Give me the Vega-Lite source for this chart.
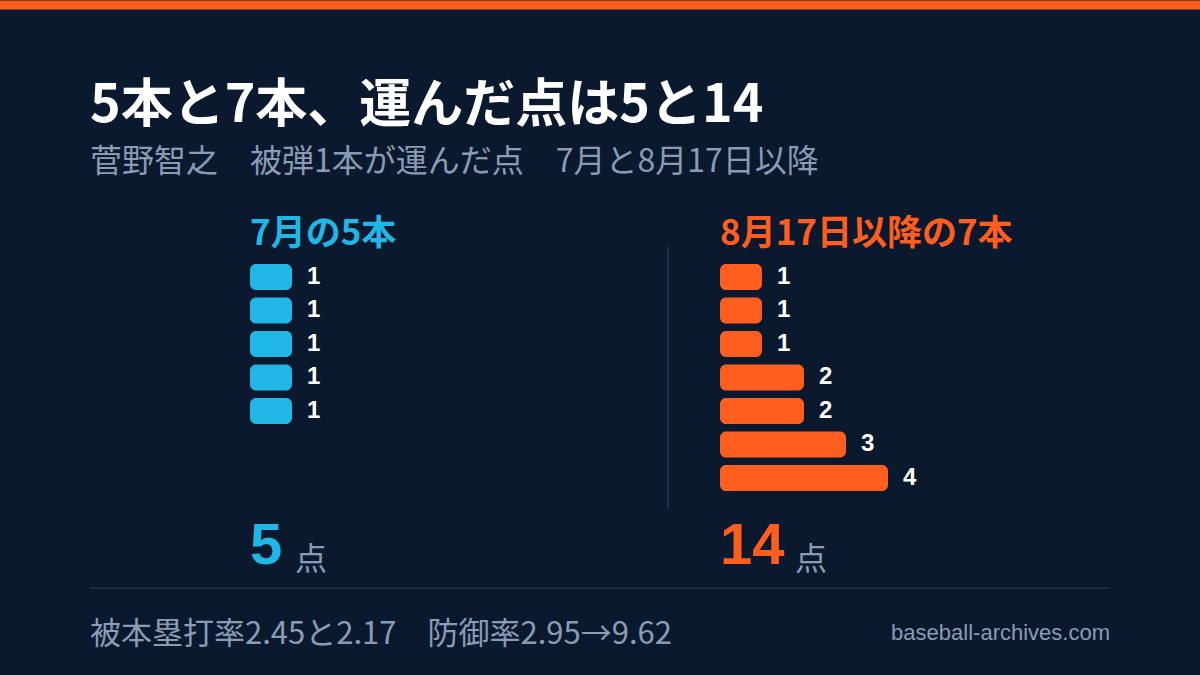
{
  "$schema": "https://vega.github.io/schema/vega-lite/v6.json",
  "width": 1200,
  "height": 675,
  "autosize": {"type": "none"},
  "padding": 0,
  "background": "#0a192e",
  "config": {
    "view": {"stroke": null},
    "font": "Noto Sans CJK JP",
    "text": {"font": "Noto Sans CJK JP"}
  },
  "datasets": {
    "july": [
      {"rank": 1, "runs": 1},
      {"rank": 2, "runs": 1},
      {"rank": 3, "runs": 1},
      {"rank": 4, "runs": 1},
      {"rank": 5, "runs": 1}
    ],
    "after": [
      {"rank": 1, "runs": 1},
      {"rank": 2, "runs": 1},
      {"rank": 3, "runs": 1},
      {"rank": 4, "runs": 2},
      {"rank": 5, "runs": 2},
      {"rank": 6, "runs": 3},
      {"rank": 7, "runs": 4}
    ]
  },
  "layer": [
    {
      "layer": [
        {
          "data": {"values": [{}]},
          "mark": {"type": "rule", "color": "#ff5e1f", "strokeWidth": 9},
          "encoding": {
            "x": {"datum": -5.9524, "type": "quantitative", "axis": null, "scale": {"domain": [-5.9524, 22.619], "zero": false, "nice": false}},
            "x2": {"datum": 22.619},
            "y": {"datum": -7.1176, "type": "quantitative", "axis": null, "scale": {"domain": [-7.1176, 12.7353], "reverse": true, "zero": false, "nice": false}}
          }
        },
        {
          "data": {"values": [{}]},
          "mark": {"type": "text", "align": "left", "baseline": "alphabetic", "fontSize": 52, "fontWeight": "bold", "color": "#ffffff", "text": "5本と7本、運んだ点は5と14"},
          "encoding": {
            "x": {"datum": -3.8095, "type": "quantitative"},
            "y": {"datum": -3.62, "type": "quantitative"}
          }
        },
        {
          "data": {"values": [{}]},
          "mark": {"type": "text", "align": "left", "baseline": "alphabetic", "fontSize": 32, "color": "#8a9bb4", "text": "菅野智之　被弾1本が運んだ点　7月と8月17日以降"},
          "encoding": {
            "x": {"datum": -3.8095, "type": "quantitative"},
            "y": {"datum": -2.14, "type": "quantitative"}
          }
        },
        {
          "data": {"values": [{}]},
          "mark": {"type": "text", "align": "left", "baseline": "alphabetic", "fontSize": 35, "fontWeight": "bold", "color": "#20b6e6", "text": "7月の5本"},
          "encoding": {
            "x": {"datum": 0, "type": "quantitative"},
            "y": {"datum": 0.06, "type": "quantitative"}
          }
        },
        {
          "data": {"name": "july"},
          "mark": {"type": "bar", "orient": "horizontal", "height": 26, "cornerRadius": 6, "color": "#20b6e6"},
          "encoding": {
            "x": {"field": "runs", "type": "quantitative", "stack": null},
            "x2": {"datum": 0},
            "y": {"field": "rank", "type": "quantitative"}
          }
        },
        {
          "data": {"name": "july"},
          "mark": {"type": "text", "align": "left", "baseline": "middle", "dx": 15, "fontSize": 24, "fontWeight": "bold", "font": "Liberation Sans", "color": "#ffffff"},
          "encoding": {
            "x": {"field": "runs", "type": "quantitative", "stack": null},
            "y": {"field": "rank", "type": "quantitative"},
            "text": {"field": "runs", "type": "quantitative"}
          }
        },
        {
          "data": {"values": [{}]},
          "mark": {"type": "text", "align": "left", "baseline": "alphabetic", "fontSize": 58, "fontWeight": "bold", "font": "Liberation Sans", "color": "#20b6e6", "text": "5"},
          "encoding": {
            "x": {"datum": 0, "type": "quantitative"},
            "y": {"datum": 9.56, "type": "quantitative"}
          }
        },
        {
          "data": {"values": [{}]},
          "mark": {"type": "text", "align": "left", "baseline": "alphabetic", "fontSize": 32, "color": "#8a9bb4", "text": "点"},
          "encoding": {
            "x": {"datum": 1.0714, "type": "quantitative"},
            "y": {"datum": 9.76, "type": "quantitative"}
          }
        },
        {
          "data": {"values": [{}]},
          "mark": {"type": "rule", "color": "#1f3049", "strokeWidth": 1.5},
          "encoding": {
            "x": {"datum": -3.8095, "type": "quantitative"},
            "x2": {"datum": 20.476},
            "y": {"datum": 10.294, "type": "quantitative"}
          }
        },
        {
          "data": {"values": [{}]},
          "mark": {"type": "text", "align": "left", "baseline": "alphabetic", "fontSize": 31, "color": "#8a9bb4", "text": "被本塁打率2.45と2.17　防御率2.95→9.62"},
          "encoding": {
            "x": {"datum": -3.8095, "type": "quantitative"},
            "y": {"datum": 11.96, "type": "quantitative"}
          }
        },
        {
          "data": {"values": [{}]},
          "mark": {"type": "text", "align": "right", "baseline": "alphabetic", "fontSize": 22, "font": "Liberation Sans", "color": "#8a9bb4", "text": "baseball-archives.com"},
          "encoding": {
            "x": {"datum": 20.476, "type": "quantitative"},
            "y": {"datum": 11.85, "type": "quantitative"}
          }
        }
      ]
    },
    {
      "layer": [
        {
          "data": {"values": [{}]},
          "mark": {"type": "rule", "color": "#1f3049", "strokeWidth": 2},
          "encoding": {
            "x": {"datum": -1.2381, "type": "quantitative", "axis": null, "scale": {"domain": [-17.1429, 11.4286], "zero": false, "nice": false}},
            "y": {"datum": 0.12, "type": "quantitative"},
            "y2": {"datum": 7.94}
          }
        },
        {
          "data": {"values": [{}]},
          "mark": {"type": "text", "align": "left", "baseline": "alphabetic", "fontSize": 35, "fontWeight": "bold", "color": "#ff5e1f", "text": "8月17日以降の7本"},
          "encoding": {
            "x": {"datum": 0, "type": "quantitative"},
            "y": {"datum": 0.06, "type": "quantitative"}
          }
        },
        {
          "data": {"name": "after"},
          "mark": {"type": "bar", "orient": "horizontal", "height": 26, "cornerRadius": 6, "color": "#ff5e1f"},
          "encoding": {
            "x": {"field": "runs", "type": "quantitative", "stack": null},
            "x2": {"datum": 0},
            "y": {"field": "rank", "type": "quantitative"}
          }
        },
        {
          "data": {"name": "after"},
          "mark": {"type": "text", "align": "left", "baseline": "middle", "dx": 15, "fontSize": 24, "fontWeight": "bold", "font": "Liberation Sans", "color": "#ffffff"},
          "encoding": {
            "x": {"field": "runs", "type": "quantitative", "stack": null},
            "y": {"field": "rank", "type": "quantitative"},
            "text": {"field": "runs", "type": "quantitative"}
          }
        },
        {
          "data": {"values": [{}]},
          "mark": {"type": "text", "align": "left", "baseline": "alphabetic", "fontSize": 58, "fontWeight": "bold", "font": "Liberation Sans", "color": "#ff5e1f", "text": "14"},
          "encoding": {
            "x": {"datum": 0, "type": "quantitative"},
            "y": {"datum": 9.56, "type": "quantitative"}
          }
        },
        {
          "data": {"values": [{}]},
          "mark": {"type": "text", "align": "left", "baseline": "alphabetic", "fontSize": 32, "color": "#8a9bb4", "text": "点"},
          "encoding": {
            "x": {"datum": 1.7857, "type": "quantitative"},
            "y": {"datum": 9.76, "type": "quantitative"}
          }
        }
      ]
    }
  ],
  "resolve": {"scale": {"x": "independent"}}
}
